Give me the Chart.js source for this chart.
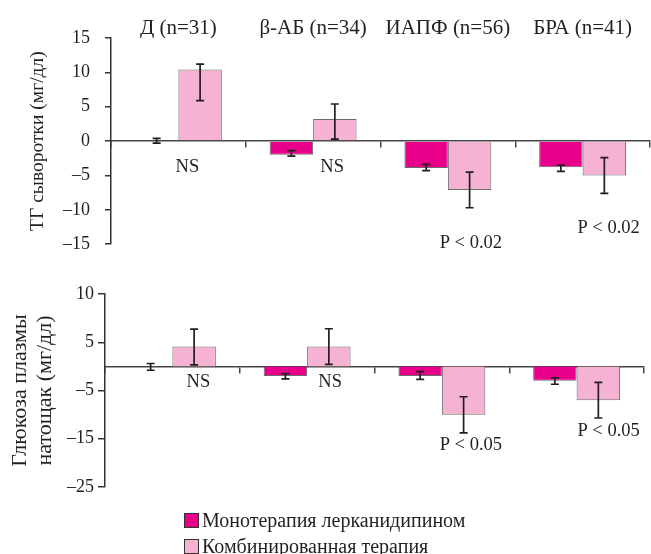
<!DOCTYPE html>
<html>
<head>
<meta charset="utf-8">
<script src="https://cdn.jsdelivr.net/npm/chart.js@4.4.1/dist/chart.umd.min.js"></script>
<style>
  body { margin: 0; background: #fff; }
  #wrap { position: relative; width: 651px; height: 554px; overflow: hidden; }
  #topBox { position: absolute; left: 0; top: 0; width: 651px; height: 270px; }
  #bottomBox { position: absolute; left: 0; top: 262px; width: 651px; height: 292px; }
  #legend { position: absolute; left: 184px; top: 507px; font-family: 'Liberation Serif', serif; font-size: 20px; color: #231f20; }
  #legend .row { display: flex; align-items: center; height: 26px; }
  #legend .sw { width: 13px; height: 13px; border: 1px solid #333; margin-right: 3px; }
</style>
</head>
<body>
<div id="wrap">
  <div id="topBox"><canvas id="tgChart" width="651" height="270"></canvas></div>
  <div id="bottomBox"><canvas id="glChart" width="651" height="292"></canvas></div>
  <div id="legend"></div>
</div>
<script>
// groups and series
const groupLabels = ['Д (n=31)', 'β-АБ (n=34)', 'ИАПФ (n=56)', 'БРА (n=41)'];
const seriesNames = ['Монотерапия лерканидипином', 'Комбинированная терапия'];
const seriesColors = ['#e8008a', '#f5b2d3'];

// ТГ сыворотки (мг/дл)
const tgMono = [0, -2.0, -3.9, -3.8];
const tgMonoLow = [-0.3, -2.2, -4.3, -4.4];
const tgMonoHigh = [0.4, -1.4, -3.4, -3.5];
const tgCombo = [10.4, 3.2, -7.1, -5.0];
const tgComboLow = [5.9, 0.3, -9.7, -7.6];
const tgComboHigh = [11.2, 5.4, -4.5, -2.4];

// Глюкоза плазмы натощак (мг/дл)
const glMono = [0, -2.0, -2.0, -3.0];
const glMonoLow = [-0.8, -2.6, -2.7, -3.7];
const glMonoHigh = [0.6, -1.5, -1.1, -2.4];
const glCombo = [4.1, 4.1, -10.0, -7.0];
const glComboLow = [0.3, 0.4, -13.8, -10.7];
const glComboHigh = [7.7, 7.8, -6.3, -3.3];

// axis ticks
const tgTickMin = -15, tgTickMax = 15, tgTickStep = 5;
const glTickValues = [-25, -15, -5, 5, 15];
const glTickLabels = ['–25', '–15', '–5', '5', '10'];

// significance notes
const tgNotes = ['NS', 'NS', 'P < 0.02', 'P < 0.02'];
const glNotes = ['NS', 'NS', 'P < 0.05', 'P < 0.05'];
const tgNoteY = [-3.8, -3.8, -14.8, -12.6];
const glNoteY = [-3.2, -3.2, -16.3, -13.4];

const FONT = "'Liberation Serif', 'Times New Roman', serif";
const INK = '#231f20';

const errorBars = {
  id: 'errorBars',
  afterDatasetsDraw(chart, args, opts) {
    const ctx = chart.ctx;
    const y = chart.scales.y;
    ctx.save();
    ctx.strokeStyle = INK;
    ctx.lineWidth = 1.7;
    chart.data.datasets.forEach((ds, i) => {
      chart.getDatasetMeta(i).data.forEach((bar, j) => {
        const y1 = y.getPixelForValue(ds.errLow[j]);
        const y2 = y.getPixelForValue(ds.errHigh[j]);
        ctx.beginPath();
        ctx.moveTo(bar.x, y1); ctx.lineTo(bar.x, y2);
        ctx.moveTo(bar.x - 4, y1); ctx.lineTo(bar.x + 4, y1);
        ctx.moveTo(bar.x - 4, y2); ctx.lineTo(bar.x + 4, y2);
        ctx.stroke();
      });
    });
    ctx.restore();
  }
};

const notesPlugin = {
  id: 'notes',
  afterDatasetsDraw(chart, args, opts) {
    const ctx = chart.ctx;
    const x = chart.scales.x, y = chart.scales.y;
    ctx.save();
    ctx.fillStyle = INK;
    ctx.font = '18.5px ' + FONT;
    ctx.textAlign = 'center';
    ctx.textBaseline = 'middle';
    opts.texts.forEach((t, i) => {
      ctx.fillText(t, x.getPixelForValue(i) + opts.dx[i], y.getPixelForValue(opts.values[i]));
    });
    ctx.restore();
  }
};

function makeDatasets(mono, monoLow, monoHigh, combo, comboLow, comboHigh) {
  return [
    { label: seriesNames[0], data: mono, errLow: monoLow, errHigh: monoHigh,
      backgroundColor: seriesColors[0], borderColor: '#6b6b6b', borderWidth: 1,
      categoryPercentage: 0.645, barPercentage: 1 },
    { label: seriesNames[1], data: combo, errLow: comboLow, errHigh: comboHigh,
      backgroundColor: seriesColors[1], borderColor: '#6b6b6b', borderWidth: 1,
      categoryPercentage: 0.645, barPercentage: 1 }
  ];
}

const zeroAxis = {
  type: 'category',
  position: { y: 0 },
  offset: true,
  z: 1,
  grid: { display: true, offset: true, drawOnChartArea: false, drawTicks: true, tickLength: 6, color: '#444', lineWidth: 1.5 },
  border: { display: true, color: '#444', width: 1.5 },
  ticks: { display: false }
};

const dash = v => String(v).replace('-', '–');

new Chart(document.getElementById('tgChart'), {
  type: 'bar',
  data: {
    labels: groupLabels,
    datasets: makeDatasets(tgMono, tgMonoLow, tgMonoHigh, tgCombo, tgComboLow, tgComboHigh)
  },
  options: {
    responsive: false,
    animation: false,
    layout: { padding: { top: 0, bottom: 11, left: 0, right: 1 } },
    plugins: {
      legend: { display: false },
      tooltip: { enabled: false },
      notes: { texts: tgNotes, values: tgNoteY, dx: [9, 19, 23, 26] }
    },
    scales: {
      x: zeroAxis,
      x2: {
        type: 'category',
        position: 'top',
        offset: true,
        grid: { display: false, drawTicks: false },
        border: { display: false },
        ticks: { font: { family: FONT, size: 21 }, color: INK, padding: -3, maxRotation: 0 },
        afterFit(scale) { scale.height = 38; }
      },
      y: {
        min: tgTickMin,
        max: tgTickMax,
        z: 1,
        ticks: { stepSize: tgTickStep, font: { family: FONT, size: 18 }, color: INK, padding: 15, callback: dash },
        grid: { drawOnChartArea: false, drawTicks: true, tickLength: 6, color: '#333', lineWidth: 1.5 },
        border: { display: true, color: '#333', width: 1.5 },
        title: { display: true, text: 'ТГ сыворотки (мг/дл)', font: { family: FONT, size: 19.5 }, color: INK, padding: { top: 26 } },
        afterFit(scale) { scale.width = 111; }
      }
    }
  },
  plugins: [errorBars, notesPlugin]
});

new Chart(document.getElementById('glChart'), {
  type: 'bar',
  data: {
    labels: groupLabels,
    datasets: makeDatasets(glMono, glMonoLow, glMonoHigh, glCombo, glComboLow, glComboHigh)
  },
  options: {
    responsive: false,
    animation: false,
    layout: { padding: { top: 32, bottom: 67, left: 0, right: 7 } },
    plugins: {
      legend: { display: false },
      tooltip: { enabled: false },
      notes: { texts: glNotes, values: glNoteY, dx: [26, 23, 29, 32] }
    },
    scales: {
      x: zeroAxis,
      y: {
        min: glTickValues[0],
        max: glTickValues[glTickValues.length - 1],
        z: 1,
        afterBuildTicks(scale) { scale.ticks = glTickValues.map(v => ({ value: v })); },
        ticks: { font: { family: FONT, size: 18 }, color: INK, padding: 4,
          callback: (v) => glTickLabels[glTickValues.indexOf(v)] },
        grid: { drawOnChartArea: false, drawTicks: true, tickLength: 7, color: '#333', lineWidth: 1.5 },
        border: { display: true, color: '#333', width: 1.5 },
        title: { display: true, text: ['Глюкоза плазмы', 'натощак (мг/дл)'], font: { family: FONT, size: 22, lineHeight: '25px' }, color: INK, padding: { top: 7.5 } },
        afterFit(scale) { scale.width = 105; }
      }
    }
  },
  plugins: [errorBars, notesPlugin]
});

// legend
const legend = document.getElementById('legend');
seriesNames.forEach((name, i) => {
  const row = document.createElement('div');
  row.className = 'row';
  const sw = document.createElement('span');
  sw.className = 'sw';
  sw.style.background = seriesColors[i];
  const txt = document.createElement('span');
  txt.textContent = name;
  row.appendChild(sw);
  row.appendChild(txt);
  legend.appendChild(row);
});
</script>
</body>
</html>
